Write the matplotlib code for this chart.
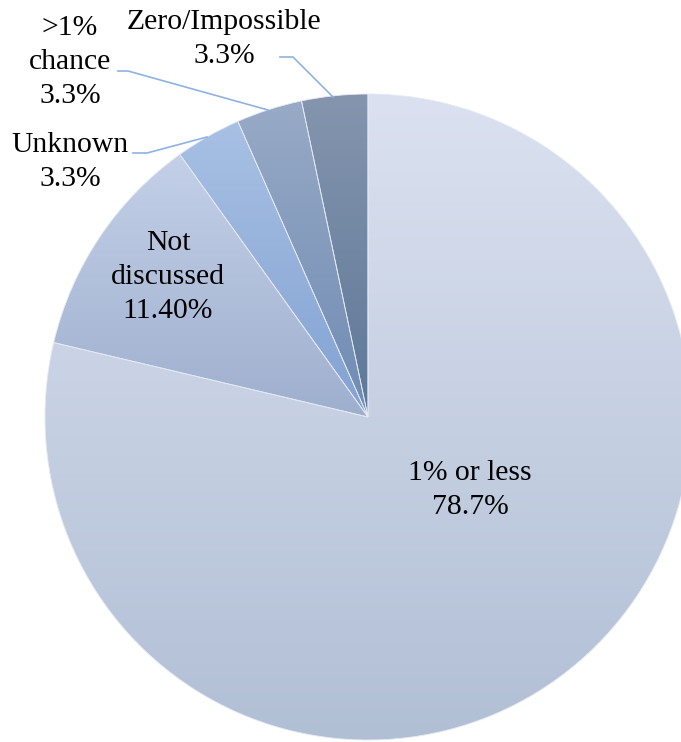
import matplotlib

matplotlib.use("Agg")
import matplotlib.pyplot as plt
import numpy as np
from matplotlib.colors import LinearSegmentedColormap

# slices, clockwise from 12 o'clock
labels = ["1% or less", "Not\ndiscussed", "Unknown", ">1%\nchance", "Zero/Impossible"]
values = [78.7, 11.4, 3.3, 3.3, 3.3]
value_text = ["78.7%", "11.40%", "3.3%", "3.3%", "3.3%"]

# (top colour, bottom colour) of each slice's vertical gradient
grad_top = ["#dbe1f0", "#c4d0e8", "#a8c0e4", "#98aac6", "#8595ae"]
grad_bot = ["#b1bfd5", "#9eafce", "#82a2d2", "#6f8bb3", "#5d7898"]

W, H = 681, 742
CENTER = (368, H - 417)
RADIUS = 323
LINE_COL = "#8db3e2"

fig = plt.figure(figsize=(W / 100, H / 100), dpi=100)
ax = fig.add_axes([0, 0, 1, 1])

wedges, _ = ax.pie(values, startangle=90, counterclock=False,
                   center=CENTER, radius=RADIUS, frame=True,
                   wedgeprops=dict(linewidth=0.6, edgecolor="#e4e9f3"))

grad = np.linspace(0, 1, 256).reshape(-1, 1)
for w, c0, c1 in zip(wedges, grad_top, grad_bot):
    w.set_facecolor("none")
    verts = w.get_patch_transform().transform(w.get_path().vertices)
    x0, y0 = verts.min(axis=0)
    x1, y1 = verts.max(axis=0)
    cmap = LinearSegmentedColormap.from_list("g", [c0, c1])
    im = ax.imshow(grad, cmap=cmap, extent=[x0, x1, y0, y1], origin="upper",
                   aspect="auto", interpolation="bilinear", zorder=0.5)
    im.set_clip_path(w)

font = dict(family="Liberation Serif", fontsize=21.3, color="black",
            ha="center", va="center", linespacing=1.38)

# label positions in pixels from top-left
label_pos = [(470, 490), (168, 277), (70, 162), (70, 62), (224, 39)]
for lab, txt, (x, y) in zip(labels, value_text, label_pos):
    ax.text(x, H - y, f"{lab}\n{txt}", **font)

# leader lines for the three thin outer-labelled slices
leaders = [
    [(133, 153), (147, 153), (207, 137)],
    [(118, 71), (128, 71), (268, 110)],
    [(280, 57), (293, 57), (333, 97)],
]
for pts in leaders:
    xs, ys = zip(*pts)
    ax.plot(xs, [H - y for y in ys], color=LINE_COL, lw=1.2)

ax.set_xlim(0, W)
ax.set_ylim(0, H)
ax.set_aspect("auto")
ax.axis("off")

fig.savefig("out.png", dpi=100)
